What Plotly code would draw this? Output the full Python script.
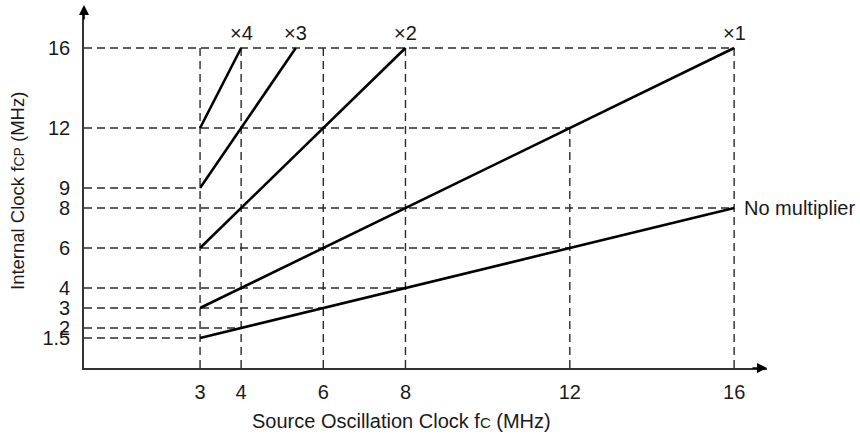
import plotly.graph_objects as go

# ---- data ----
x_ticks = [3, 4, 6, 8, 12, 16]
y_ticks = [1.5, 2, 3, 4, 6, 8, 9, 12, 16]
y_tick_text = ["1.5", "2", "3", "4", "6", "8", "9", "12", "16"]

series_names = ["No multiplier", "×1", "×2", "×3", "×4"]
series_x = [[3, 16], [3, 16], [3, 8], [3, 5.33], [3, 4]]
series_y = [[1.5, 8], [3, 16], [6, 16], [9, 16], [12, 16]]

# horizontal guide lines: y level and the x where each ends
h_guide_y = [1.5, 2, 3, 4, 6, 8, 9, 12, 16]
h_guide_x_end = [3, 4, 6, 8, 12, 16, 3, 12, 16]
# vertical guide lines: x position and the y where each ends
v_guide_x = [3, 4, 6, 8, 12, 16]
v_guide_y_end = [16, 16, 16, 16, 12, 16]

# ---- layout constants ----
X_MIN, X_MAX = 0.175, 16.8
Y_MIN, Y_MAX = 0.0, 17.9
FONT = "Liberation Sans, Arial, sans-serif"
TXT = "#1a1a1a"

fig = go.Figure()

dash_style = dict(color="#2a2a2a", width=1.4, dash="8px,5px")
for yv, xe in zip(h_guide_y, h_guide_x_end):
    fig.add_trace(go.Scatter(x=[X_MIN, xe], y=[yv, yv], mode="lines",
                             line=dash_style, hoverinfo="skip", showlegend=False))
for xv, ye in zip(v_guide_x, v_guide_y_end):
    fig.add_trace(go.Scatter(x=[xv, xv], y=[Y_MIN, ye], mode="lines",
                             line=dash_style, hoverinfo="skip", showlegend=False))

for name, xs, ys in zip(series_names, series_x, series_y):
    fig.add_trace(go.Scatter(x=xs, y=ys, mode="lines", name=name,
                             line=dict(color="#000000", width=2.6),
                             showlegend=False))

annotations = []
for name, xs, ys in zip(series_names, series_x, series_y):
    if name == "No multiplier":
        annotations.append(dict(x=xs[-1], y=ys[-1], xref="x", yref="y", text=name,
                                showarrow=False, xanchor="left", yanchor="middle",
                                xshift=8, font=dict(size=20, color=TXT, family=FONT)))
    else:
        annotations.append(dict(x=xs[-1], y=ys[-1], xref="x", yref="y", text=name,
                                showarrow=False, xanchor="center", yanchor="bottom",
                                yshift=2, font=dict(size=20, color=TXT, family=FONT)))

# axis arrows
annotations.append(dict(x=X_MIN, y=1.014, xref="x", yref="paper", ax=0, ay=16,
                        showarrow=True, arrowhead=2, arrowsize=1.25, arrowwidth=1.6,
                        arrowcolor="#000000", text=""))
annotations.append(dict(x=X_MAX, y=0, xref="x", yref="paper", ax=-16, ay=0,
                        showarrow=True, arrowhead=2, arrowsize=1.25, arrowwidth=1.6,
                        arrowcolor="#000000", text=""))

# axis titles
annotations.append(dict(x=7.9, y=0, xref="x", yref="paper", yshift=-53,
                        text="Source Oscillation Clock f<span style='font-size:15px'>C</span> (MHz)",
                        showarrow=False, xanchor="center", yanchor="middle",
                        font=dict(size=20, color=TXT, family=FONT)))
annotations.append(dict(x=0, y=0.5, xref="paper", yref="paper", xshift=-67, yshift=-2,
                        text="Internal Clock f<span style='font-size:14px'>CP</span> (MHz)",
                        textangle=-90, showarrow=False, xanchor="center", yanchor="middle",
                        font=dict(size=18.5, color=TXT, family=FONT)))

fig.update_layout(
    width=860, height=435,
    margin=dict(l=84, r=93, t=10, b=67),
    paper_bgcolor="white", plot_bgcolor="white",
    showlegend=False,
    annotations=annotations,
    xaxis=dict(range=[X_MIN, X_MAX], tickvals=x_ticks, ticktext=[str(v) for v in x_ticks],
               showgrid=False, zeroline=False, showline=True, linecolor="#333333",
               linewidth=1.6, ticks="", ticklabelstandoff=5,
               tickfont=dict(size=20, color=TXT, family=FONT)),
    yaxis=dict(range=[Y_MIN, Y_MAX], tickvals=y_ticks, ticktext=y_tick_text,
               showgrid=False, zeroline=False, showline=True, linecolor="#333333",
               linewidth=1.6, ticks="", ticklabelstandoff=8,
               tickfont=dict(size=20, color=TXT, family=FONT)),
)

# remove the default page margin so the figure fills the 860x435 window exactly
fig.write_html(
    "out.html",
    config={"displayModeBar": False},
    post_script="document.body.style.margin='0';document.body.style.overflow='hidden';",
)
